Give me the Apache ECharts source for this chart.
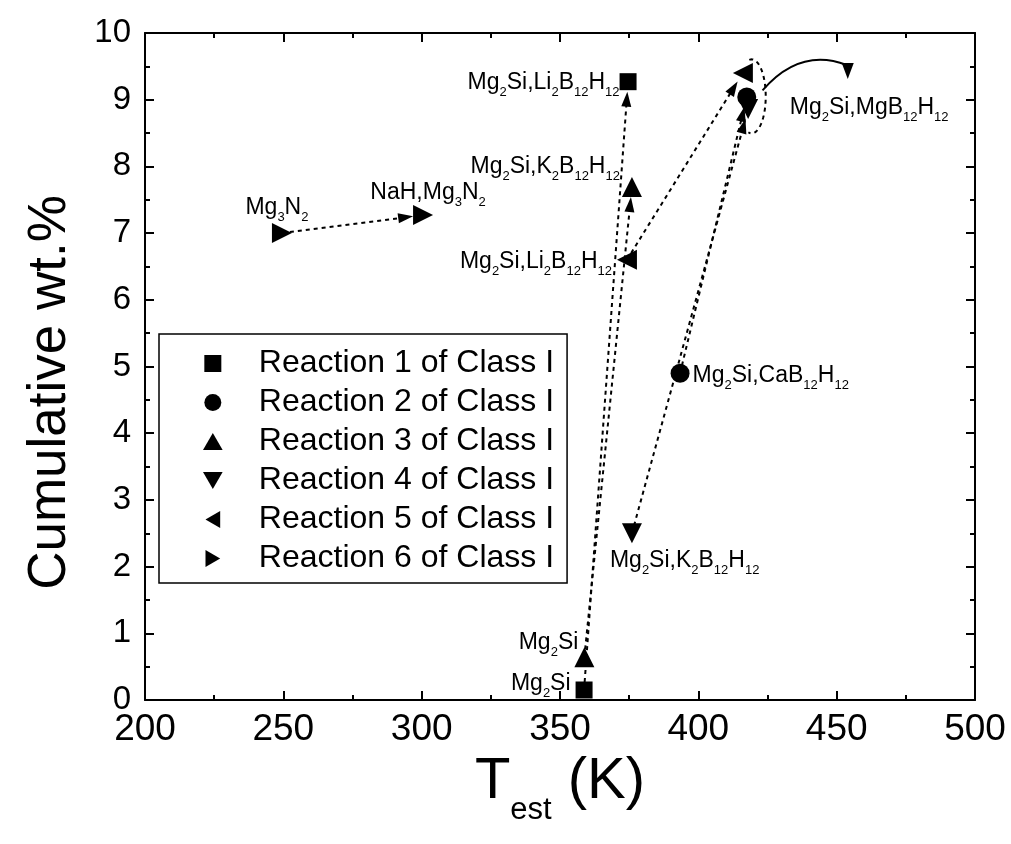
<!DOCTYPE html>
<html><head><meta charset="utf-8">
<script src="https://cdn.jsdelivr.net/npm/echarts@6/dist/echarts.min.js"></script>
<style>html,body{margin:0;padding:0;background:#fff}#c{width:1011px;height:844px}</style>
</head><body><div id="c"></div>
<script>
// ---------- data ----------
const seriesNames = ['Reaction 1 of Class I','Reaction 2 of Class I','Reaction 3 of Class I',
  'Reaction 4 of Class I','Reaction 5 of Class I','Reaction 6 of Class I'];
// [T_est (K), cumulative wt.%]
const r1 = [[358.7, 0.15], [374.6, 9.27]];
const r2 = [[393.4, 4.90], [417.5, 9.04]];
const r3 = [[358.8, 0.64], [376.0, 7.69]];
const r4 = [[376.0, 2.50], [418.0, 8.86]];
const r5 = [[374.2, 6.60], [416.1, 9.40]];
const r6 = [[249.5, 7.00], [300.5, 7.27]];
const r1Labels = ['Mg_2Si', 'Mg_2Si,Li_2B_12H_12'];
const r2Labels = ['Mg_2Si,CaB_12H_12', ''];
const r3Labels = ['Mg_2Si', 'Mg_2Si,K_2B_12H_12'];
const r4Labels = ['Mg_2Si,K_2B_12H_12', ''];
const r5Labels = ['Mg_2Si,Li_2B_12H_12', ''];
const r6Labels = ['Mg_3N_2', 'NaH,Mg_3N_2'];
// cluster annotation: ellipse centre, curved arrow start, curved arrow end (label Mg2Si,MgB12H12)
const clusterCentre = [419.3, 9.05];
const curveStart = [423.2, 9.14];
const curveEnd = [454.0, 9.43];
const clusterLabel = 'Mg_2Si,MgB_12H_12';
const xTicks = [200, 500, 50];
const yTicks = [0, 10, 1];

// ---------- helpers ----------
function toRich(s){
  return s.split(/(_\d+)/).filter(t => t.length).map(t =>
    t[0] === '_' ? '{s|' + t.slice(1) + '}' : '{n|' + t + '}').join('');
}
const FONT = 'Liberation Sans, Arial, sans-serif';
const richStyle = {
  n: {fontSize: 23, fontFamily: FONT, color: '#000', lineHeight: 24, verticalAlign: 'top'},
  s: {fontSize: 13, fontFamily: FONT, color: '#000', lineHeight: 13, verticalAlign: 'top', padding: [15, 0, 0, 0]}
};
// label placement per point (style only)
const labelPlace = {
  r1: [{position: 'left', distance: 5, offset: [0, -6]}, {position: 'left', distance: 0, offset: [0, 1]}],
  r2: [{position: 'right', distance: 3, offset: [0, 3]}, null],
  r3: [{position: 'left', distance: 0, offset: [4, -14]}, {position: 'left', distance: 2, offset: [0, -20]}],
  r4: [{position: 'bottom', distance: 6, align: 'left', offset: [-22, 0]}, null],
  r5: [{position: 'left', distance: 5, offset: [0, 2]}, null],
  r6: [{position: 'top', distance: 3, offset: [-5, 0]}, {position: 'top', distance: 0, offset: [5, 0]}]
};
function items(pts, labels, place){
  return pts.map((p, i) => {
    const it = {value: p};
    if (labels[i]) {
      it.label = Object.assign({show: true, formatter: toRich(labels[i]), rich: richStyle}, place[i]);
    }
    return it;
  });
}
const SQUARE = 'path://M0,0L1,0L1,1L0,1Z';
const TRI_UP = 'path://M1,0L2,1.73L0,1.73Z';
const TRI_DOWN = 'path://M0,0L2,0L1,1.73Z';
const TRI_LEFT = 'path://M1.73,0L1.73,2L0,1Z';
const TRI_RIGHT = 'path://M0,0L0,2L1.73,1Z';
const symbols = [[SQUARE, 17], ['circle', 19], [TRI_UP, 20], [TRI_DOWN, 20], [TRI_LEFT, 20], [TRI_RIGHT, 20]];
const allPts = [r1, r2, r3, r4, r5, r6];
const allLabels = [r1Labels, r2Labels, r3Labels, r4Labels, r5Labels, r6Labels];
const allPlace = [labelPlace.r1, labelPlace.r2, labelPlace.r3, labelPlace.r4, labelPlace.r5, labelPlace.r6];

// arrows: from, to, arrowAtStart, arrowAtEnd
const arrows = [
  [r1[0], r1[1], 0, 1],
  [r3[0], r3[1], 0, 1],
  [r2[0], r2[1], 0, 1],
  [r4[0], r4[1], 0, 1],
  [r5[0], r5[1], 0, 1],
  [r6[0], r6[1], 0, 1]
];
const arrowData = arrows.map(a => [a[0][0], a[0][1], a[1][0], a[1][1], a[2], a[3]]);

const GAP = 10, AL = 15, AW = 10;
function arrowItem(params, api){
  const p1 = api.coord([api.value(0), api.value(1)]);
  const p2 = api.coord([api.value(2), api.value(3)]);
  const s = api.value(4), e = api.value(5);
  const dx = p2[0]-p1[0], dy = p2[1]-p1[1], L = Math.hypot(dx, dy);
  const ux = dx/L, uy = dy/L, nx = -uy, ny = ux;
  const a = s ? [p1[0]+ux*GAP, p1[1]+uy*GAP] : p1;
  const b = e ? [p2[0]-ux*GAP, p2[1]-uy*GAP] : p2;
  const la = s ? [a[0]+ux*AL*0.8, a[1]+uy*AL*0.8] : a;
  const lb = e ? [b[0]-ux*AL*0.8, b[1]-uy*AL*0.8] : b;
  const children = [{type: 'line', shape: {x1: la[0], y1: la[1], x2: lb[0], y2: lb[1]},
    style: {stroke: '#000', lineWidth: 2, lineDash: [4, 4], fill: null}}];
  function head(tip, dir){
    const bx = tip[0]-dir[0]*AL, by = tip[1]-dir[1]*AL;
    children.push({type: 'polygon', shape: {points: [tip, [bx+nx*AW/2, by+ny*AW/2], [bx-nx*AW/2, by-ny*AW/2]]},
      style: {fill: '#000'}});
  }
  if (e) head(b, [ux, uy]);
  if (s) head(a, [-ux, -uy]);
  return {type: 'group', children};
}
function clusterItem(params, api){
  const c = api.coord([api.value(0), api.value(1)]);
  const p1 = api.coord([api.value(2), api.value(3)]);
  const p2 = api.coord([api.value(4), api.value(5)]);
  const rx = 14, ry = 37, pts = [];
  for (let t = -100; t <= 105; t += 3) {
    const r = t*Math.PI/180;
    pts.push([c[0]+rx*Math.cos(r), c[1]+ry*Math.sin(r)]);
  }
  const tip = [p2[0], p2[1]+8];
  return {type: 'group', children: [
    {type: 'polyline', shape: {points: pts}, style: {stroke: '#000', lineWidth: 2, lineDash: [4, 4], fill: null}},
    {type: 'bezierCurve', shape: {x1: p1[0], y1: p1[1], x2: p2[0]-1, y2: p2[1]-6,
      cpx1: (p1[0]+p2[0])/2 - 5, cpy1: Math.min(p1[1], p2[1]) - 24},
      style: {stroke: '#000', lineWidth: 2, fill: null}},
    {type: 'polygon', shape: {points: [tip, [tip[0]-6, tip[1]-16], [tip[0]+6, tip[1]-16]]}, style: {fill: '#000'}},
    {type: 'text', x: p2[0]-58, y: p2[1]+37,
      style: {text: toRich(clusterLabel), rich: richStyle, align: 'left', verticalAlign: 'middle'}}
  ]};
}

const series = [
  {type: 'custom', name: 'arrows', renderItem: arrowItem, data: arrowData,
   encode: {x: [0, 2], y: [1, 3]}, z: 1, silent: true},
  {type: 'custom', name: 'cluster', renderItem: clusterItem,
   data: [[clusterCentre[0], clusterCentre[1], curveStart[0], curveStart[1], curveEnd[0], curveEnd[1]]],
   encode: {x: [0, 2, 4], y: [1, 3, 5]}, z: 1, silent: true}
];
allPts.forEach((pts, i) => {
  series.push({type: 'scatter', name: seriesNames[i], symbol: symbols[i][0], symbolSize: symbols[i][1],
    itemStyle: {color: '#000', opacity: 1}, z: 3,
    data: items(pts, allLabels[i], allPlace[i])});
});

const tickStyle = {inside: true, length: 9, lineStyle: {color: '#000', width: 2}};
const minorStyle = {show: true, splitNumber: 2, length: 5, lineStyle: {color: '#000', width: 2}};
const axLine = {show: true, onZero: false, lineStyle: {color: '#000', width: 2}};
const option = {
  animation: false,
  backgroundColor: '#fff',
  grid: {left: 145, right: 36, top: 33, bottom: 144},
  legend: {
    orient: 'vertical', left: 159, top: 334, data: seriesNames,
    itemWidth: 82, itemHeight: 17, itemGap: 0,
    padding: [10, 13, 5, 44],
    borderColor: '#000', borderWidth: 1.5,
    textStyle: {fontSize: 32, fontFamily: FONT, color: '#000', lineHeight: 39}
  },
  xAxis: [
    {type: 'value', min: xTicks[0], max: xTicks[1], interval: xTicks[2],
     name: '{t|T}{s|est}{t| (K)}', nameLocation: 'middle', nameGap: 50,
     nameTextStyle: {rich: {
       t: {fontSize: 58, fontFamily: FONT, color: '#000', lineHeight: 64, verticalAlign: 'top'},
       s: {fontSize: 31, fontFamily: FONT, color: '#000', lineHeight: 32, verticalAlign: 'top', padding: [42, 0, 0, 0]}}},
     axisLine: axLine, axisTick: tickStyle, minorTick: minorStyle, splitLine: {show: false},
     axisLabel: {fontSize: 37, fontFamily: FONT, color: '#000', margin: 11}},
    {type: 'value', position: 'top', min: xTicks[0], max: xTicks[1], interval: xTicks[2],
     axisLine: axLine, axisTick: tickStyle, minorTick: minorStyle, splitLine: {show: false},
     axisLabel: {show: false}}
  ],
  yAxis: [
    {type: 'value', min: yTicks[0], max: yTicks[1], interval: yTicks[2],
     name: 'Cumulative wt.%', nameLocation: 'middle', nameGap: 68,
     nameTextStyle: {fontSize: 53, fontFamily: FONT, color: '#000', padding: [0, 52, 0, 0]},
     axisLine: axLine, axisTick: tickStyle, minorTick: minorStyle, splitLine: {show: false},
     axisLabel: {fontSize: 33, fontFamily: FONT, color: '#000', margin: 14}},
    {type: 'value', position: 'right', min: yTicks[0], max: yTicks[1], interval: yTicks[2],
     axisLine: axLine, axisTick: tickStyle, minorTick: minorStyle, splitLine: {show: false},
     axisLabel: {show: false}}
  ],
  series
};
const chart = echarts.init(document.getElementById('c'), null, {renderer: 'canvas'});
chart.setOption(option);
</script></body></html>
